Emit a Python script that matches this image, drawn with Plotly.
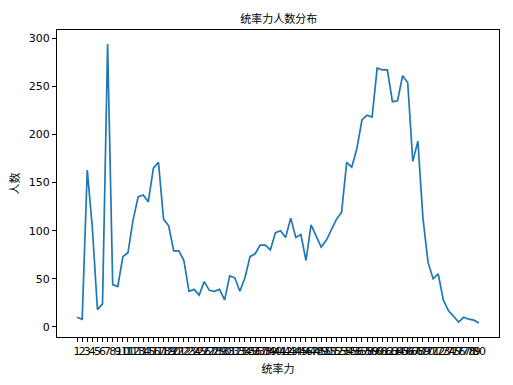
import plotly.graph_objects as go

# 统率力 categories (string labels)
labels = [str(i) for i in range(1, 81)]

# 人数 per category
counts = [10, 8, 163, 103, 18, 24, 294, 44, 42, 73,
          77, 111, 135, 137, 130, 165, 171, 112, 105, 79,
          79, 69, 37, 39, 33, 47, 38, 37, 39, 28,
          53, 51, 37, 51, 73, 76, 85, 85, 80, 98,
          100, 93, 113, 93, 96, 69, 106, 95, 83, 90,
          101, 112, 119, 171, 166, 185, 215, 220, 218, 269,
          267, 267, 234, 235, 261, 254, 172, 193, 113, 67,
          50, 55, 28, 17, 11, 5, 10, 8, 7, 4]

y_ticks = [0, 50, 100, 150, 200, 250, 300]

title_text = "统率力人数分布"
x_title = "统率力"
y_title = "人数"

n = len(labels)
pad = 0.05 * (n - 1)
ymin, ymax = min(counts), max(counts)
ypad = 0.05 * (ymax - ymin)

fig = go.Figure()
fig.add_trace(go.Scatter(
    x=labels, y=counts, mode="lines",
    line=dict(color="#1f77b4", width=1.7),
    showlegend=False,
))

cjk = "Noto Sans CJK SC, DejaVu Sans, sans-serif"
tickfont = dict(family="DejaVu Sans, sans-serif", size=11, color="black")

fig.update_layout(
    width=513, height=385,
    margin=dict(l=57, r=14, t=30, b=48),
    paper_bgcolor="white", plot_bgcolor="white",
    title=dict(text=title_text, x=0.5435, xanchor="center", y=1 - 19 / 385, yanchor="middle",
               font=dict(family=cjk, size=11, color="black")),
    xaxis=dict(
        type="category",
        tickmode="array", tickvals=labels, ticktext=labels, tickangle=0,
        range=[-pad, n - 1 + pad],
        showline=True, linecolor="black", linewidth=1, mirror=True,
        ticks="outside", ticklen=4, tickcolor="black", tickwidth=1,
        tickfont=tickfont, showgrid=False, zeroline=False,
        title=dict(text=x_title, font=dict(family=cjk, size=11, color="black"), standoff=8),
    ),
    yaxis=dict(
        tickmode="array", tickvals=y_ticks,
        range=[ymin - ypad - 0.0, ymax + ypad],
        showline=True, linecolor="black", linewidth=1, mirror=True,
        ticks="outside", ticklen=4, tickcolor="black", tickwidth=1,
        tickfont=tickfont, showgrid=False, zeroline=False,
        title=dict(text=y_title, font=dict(family=cjk, size=11, color="black"), standoff=6),
    ),
)

fig.write_html("out.html")
